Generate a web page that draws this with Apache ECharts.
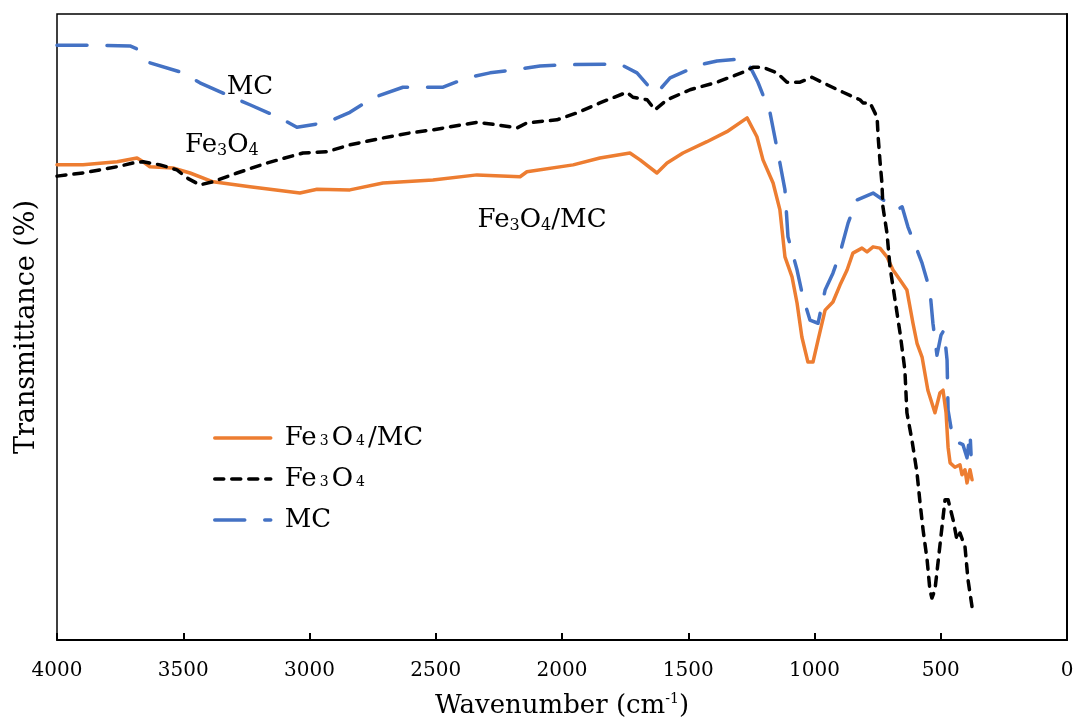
<!DOCTYPE html>
<html>
<head>
<meta charset="utf-8">
<script src="https://cdn.jsdelivr.net/npm/echarts@6/dist/echarts.min.js"></script>
<style>
html,body{margin:0;padding:0;background:#fff;}
#chart{width:1077px;height:720px;}
</style>
</head>
<body>
<div id="chart"></div>
<script>
// Wavenumber (cm-1) and transmittance (arbitrary %, 0-100 scale)
const xTicks = [4000, 3500, 3000, 2500, 2000, 1500, 1000, 500, 0];

const mcWave = [4000,3830,3711,3671,3632,3501,3434,3327,3236,3117,3050,2931,2840,2749,2630,2471,2376,2285,2166,2087,1980,1770,1703,1651,1624,1572,1453,1386,1295,1263,1224,1176,1137,1117,1105,1069,1046,1018,986,958,927,899,867,832,768,713,673,653,630,594,574,543,531,515,499,487,475,471,451,412,396,384,380];
const mcVal = [95.0,95.0,94.9,94.2,92.2,90.6,89.0,87.1,85.5,83.4,81.9,82.7,84.3,86.6,88.3,88.3,89.8,90.6,91.2,91.7,91.9,92.0,90.6,88.2,87.4,89.8,91.9,92.5,92.8,92.2,89.1,84.2,76.2,71.9,64.4,59.1,54.8,51.1,50.6,55.9,58.6,61.8,66.6,70.3,71.4,69.9,68.7,69.2,66.0,62.3,60.2,55.9,50.6,45.5,48.7,49.5,44.7,36.7,31.9,31.2,29.1,33.1,29.6];

const compWave = [4000,3897,3762,3683,3659,3632,3541,3473,3382,3236,3038,2970,2840,2709,2511,2337,2166,2139,1956,1850,1731,1691,1624,1584,1521,1426,1347,1267,1228,1204,1164,1137,1117,1089,1069,1050,1026,1006,986,958,927,899,871,848,812,792,768,741,713,689,661,634,610,594,574,551,523,503,491,479,471,463,444,424,416,404,396,384,376];
const compVal = [75.9,75.9,76.4,77.0,76.4,75.6,75.4,74.6,73.2,72.4,71.4,72.0,71.9,73.0,73.5,74.3,74.0,74.8,75.9,77.0,77.8,76.7,74.6,76.2,77.8,79.6,81.2,83.4,80.4,76.7,73.0,68.7,61.2,58.0,53.8,48.4,44.4,44.4,47.9,52.7,54.0,56.7,59.1,61.8,62.6,62.0,62.8,62.6,61.2,59.1,57.5,55.9,50.6,47.4,45.2,39.9,36.3,39.5,39.9,36.3,30.8,28.3,27.6,28.0,26.4,27.2,25.1,27.2,25.6];

const feWave = [4000,3897,3762,3699,3659,3592,3525,3485,3434,3382,3287,3168,3026,2931,2840,2709,2602,2511,2337,2257,2178,2139,2020,1941,1850,1743,1719,1663,1632,1584,1493,1386,1283,1244,1204,1149,1109,1057,1010,950,887,820,808,780,752,748,741,733,729,713,701,681,661,642,634,614,594,582,570,554,543,535,523,511,495,483,471,451,436,424,404,392,376];
const feVal = [74.1,74.6,75.6,76.2,76.4,75.9,75.1,73.8,72.7,73.2,74.6,76.2,77.8,78.0,79.1,80.2,81.0,81.5,82.7,82.3,81.8,82.6,83.1,84.2,85.8,87.5,86.7,86.3,84.7,86.3,87.9,89.1,90.7,91.5,91.5,90.6,89.1,89.1,89.9,88.7,87.5,86.3,85.8,85.8,83.5,80.4,76.7,73.0,69.2,65.0,59.6,54.3,49.0,43.1,36.3,31.9,26.7,21.9,17.6,12.8,8.0,6.7,8.0,12.3,18.1,22.4,22.4,19.2,16.0,17.1,14.9,9.6,5.3];

// in-plot labels: [wavenumber, transmittance]
const labelMC = [3236, 88.3];
const labelFe = [3347, 79.1];
const labelComp = [2079, 67.1];

const seriesNames = ['Fe3O4/MC', 'Fe3O4', 'MC'];

function zip(a, b) { return a.map((x, i) => [x, b[i]]); }

const FONT = 'DejaVu Serif';
const richText = {
  a: { fontFamily: FONT, fontSize: 26, color: '#000' },
  s: { fontFamily: FONT, fontSize: 16, color: '#000', padding: [12, 0, 0, 0] }
};
const legendRich = {
  a: { fontFamily: FONT, fontSize: 26, color: '#000' },
  s: { fontFamily: FONT, fontSize: 14, color: '#000', padding: [6, 3, 0, 3] }
};

function annot(coord, text) {
  return {
    symbol: 'circle', symbolSize: 0,
    data: [{ coord: coord, value: 0 }],
    label: { show: true, position: 'inside', formatter: text, rich: richText },
    silent: true
  };
}

const chart = echarts.init(document.getElementById('chart'), null, { renderer: 'canvas' });
chart.setOption({
  animation: false,
  backgroundColor: '#fff',
  grid: { left: 57, right: 10, top: 14, bottom: 80, containLabel: false, outerBoundsMode: 'none',
    show: true, borderColor: '#000', borderWidth: 1.5, backgroundColor: 'transparent' },
  legend: {
    orient: 'vertical',
    left: 208, top: 420,
    itemWidth: 56, itemHeight: 14, itemGap: 15,
    data: seriesNames,
    itemStyle: { color: 'transparent', borderColor: 'transparent', borderWidth: 0, opacity: 0 },
    lineStyle: { width: 3.5 },
    textStyle: { rich: legendRich, padding: [0, 0, 0, 9] },
    formatter: function (n) {
      if (n === 'Fe3O4/MC') return '{a|Fe}{s|3}{a|O}{s|4}{a|/MC}';
      if (n === 'Fe3O4') return '{a|Fe}{s|3}{a|O}{s|4}';
      return '{a|MC}';
    }
  },
  xAxis: {
    type: 'value', min: 0, max: 4000, interval: 500, inverse: true,
    name: '{a|Wavenumber (cm}{sup|-1}{a|)}',
    nameLocation: 'middle', nameGap: 52,
    nameTextStyle: { rich: {
      a: { fontFamily: FONT, fontSize: 26, color: '#000' },
      sup: { fontFamily: FONT, fontSize: 14, color: '#000', padding: [0, 0, 14, 0] }
    } },
    axisLine: { lineStyle: { color: '#000', width: 2 } },
    axisTick: { inside: true, length: 7, lineStyle: { color: '#000', width: 2 } },
    axisLabel: { fontFamily: FONT, fontSize: 20, color: '#000', margin: 21,
      formatter: function (v) { return xTicks.indexOf(v) >= 0 ? String(v) : ''; } },
    splitLine: { show: false }
  },
  yAxis: {
    type: 'value', min: 0, max: 100,
    name: 'Transmittance (%)', nameLocation: 'middle', nameGap: 17, nameRotate: 90,
    nameTextStyle: { fontFamily: FONT, fontSize: 27, color: '#000' },
    axisLine: { show: true, lineStyle: { color: '#000', width: 2 } },
    axisTick: { show: false }, axisLabel: { show: false }, splitLine: { show: false }
  },
  series: [
    { name: 'Fe3O4/MC', type: 'line', data: zip(compWave, compVal), symbol: 'none', z: 3,
      lineStyle: { color: '#ED7D31', width: 3.5, cap: 'round', join: 'round' },
      itemStyle: { color: '#ED7D31' },
      markPoint: annot(labelComp, '{a|Fe}{s|3}{a|O}{s|4}{a|/MC}') },
    { name: 'Fe3O4', type: 'line', data: zip(feWave, feVal), symbol: 'none', z: 4,
      lineStyle: { color: '#000', width: 3.5, type: [9, 8], cap: 'round', join: 'round' },
      itemStyle: { color: '#000' },
      markPoint: annot(labelFe, '{a|Fe}{s|3}{a|O}{s|4}') },
    { name: 'MC', type: 'line', data: zip(mcWave, mcVal), symbol: 'none', z: 2,
      lineStyle: { color: '#4472C4', width: 3.5, type: [30, 20], cap: 'round', join: 'round' },
      itemStyle: { color: '#4472C4' },
      markPoint: annot(labelMC, '{a|MC}') }
  ]
});
</script>
</body>
</html>
